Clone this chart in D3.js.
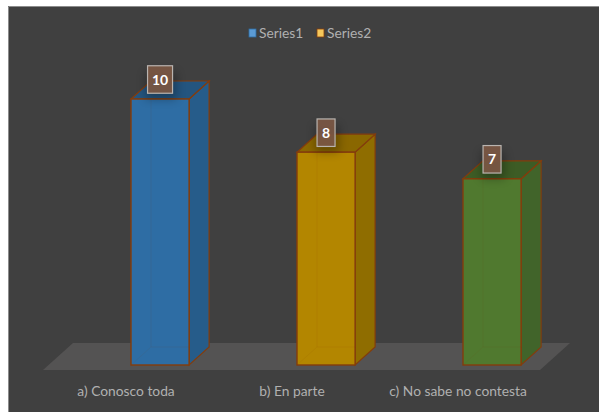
<!DOCTYPE html>
<html><head><meta charset="utf-8">
<script src="https://cdnjs.cloudflare.com/ajax/libs/d3/7.8.5/d3.min.js"></script>
<style>html,body{margin:0;padding:0;background:#fff}svg{display:block}text{font-family:Lato,"Open Sans",sans-serif}</style>
</head><body><svg id="c" width="599" height="412"></svg>
<script>
const categories = ["a) Conosco toda","b) En parte","c) No sabe no contesta"];
const values = [10,8,7];
const legendNames = ["Series1","Series2"];
const frontColors = ["#2e6da4","#b38600","#50792f"];
const topColors = ["#24557f","#8a6700","#3d5c25"];
const sideColors = ["#265c8a","#8f6d00","#41642a"];
const legendColors = ["#5b9bd5","#f5c75b"];

const W=599,H=412,dx=20,dy=18;
const svg=d3.select("#c");
const defs=svg.append("defs");
defs.append("filter").attr("id","sh").attr("x","-60%").attr("y","-60%").attr("width","220%").attr("height","220%")
  .append("feGaussianBlur").attr("stdDeviation",5);
svg.append("rect").attr("x",8).attr("y",6).attr("width",W-8).attr("height",H-6).attr("fill","#404040");
svg.append("path").attr("d","M8.5,412V6.5H599").attr("fill","none").attr("stroke","#8c8c8c");

const x=d3.scaleBand().domain(categories).range([64.6,587.5]).paddingInner(0.65).paddingOuter(0.4);
const y=d3.scaleLinear().domain([0,10]).range([365,99]);
const line=d3.line();

// floor
const fl=[[43,370],[73,343],[570,343],[540,370]];
svg.append("path").attr("d",line(fl)+"Z").attr("fill","#545353");

const g=svg.selectAll("g.bar").data(categories).join("g").attr("class","bar");
const stroke="#843c0c";
g.each(function(c,i){
  const s=d3.select(this),x0=x(c),x1=x0+x.bandwidth(),t=y(values[i]),b=y(0);
  s.append("path").attr("d",line([[x1,t],[x1+dx,t-dy],[x1+dx,b-dy],[x1,b]])+"Z").attr("fill",sideColors[i]).attr("stroke",stroke).attr("stroke-width",1.2);
  s.append("path").attr("d",line([[x0,t],[x0+dx,t-dy],[x1+dx,t-dy],[x1,t]])+"Z").attr("fill",topColors[i]).attr("stroke",stroke).attr("stroke-width",1.2);
  s.append("rect").attr("x",x0).attr("y",t).attr("width",x.bandwidth()).attr("height",b-t).attr("fill",frontColors[i]).attr("stroke",stroke).attr("stroke-width",1.4);
  // faint back edges seen through the front face
  s.append("path").attr("d",line([[x0+dx,t],[x0+dx,b-dy],[x1,b-dy]])).attr("fill","none").attr("stroke",stroke).attr("stroke-opacity",.08);
  s.append("path").attr("d",line([[x0,b],[x0+dx,b-dy]])).attr("fill","none").attr("stroke",stroke).attr("stroke-opacity",.08);
  const lw=i==0?25:18, lh=27.5, cx=x0+x.bandwidth()/2, cy=t-19.5;
  s.append("rect").attr("x",cx-lw/2-2).attr("y",cy-lh/2+6).attr("width",lw+6).attr("height",lh).attr("fill","#000").attr("opacity",.28).attr("filter","url(#sh)");
  s.append("rect").attr("x",cx-lw/2).attr("y",cy-lh/2).attr("width",lw).attr("height",lh).attr("fill","#7b5744").attr("fill-opacity",.93).attr("stroke","#b9b4b0").attr("stroke-width",1.2);
  s.append("text").attr("x",cx).attr("y",cy+5).attr("text-anchor","middle").attr("fill","#fff").attr("font-size",14).attr("font-weight",700).text(values[i]);
  svg.append("text").attr("x",x0+x.bandwidth()/2-34).attr("y",396).attr("text-anchor","middle").attr("fill","#b0b0b0").attr("font-size",13.8).text(c);
});

// legend
const lx=[249,317];
legendNames.forEach((n,i)=>{
  svg.append("rect").attr("x",lx[i]).attr("y",29).attr("width",7).attr("height",8).attr("fill",legendColors[i]).attr("stroke",i?"#843c0c":"#2e6da4").attr("stroke-width",.8);
  svg.append("text").attr("x",lx[i]+10).attr("y",38).attr("fill","#b0b0b0").attr("font-size",13.8).text(n);
});
</script></body></html>
